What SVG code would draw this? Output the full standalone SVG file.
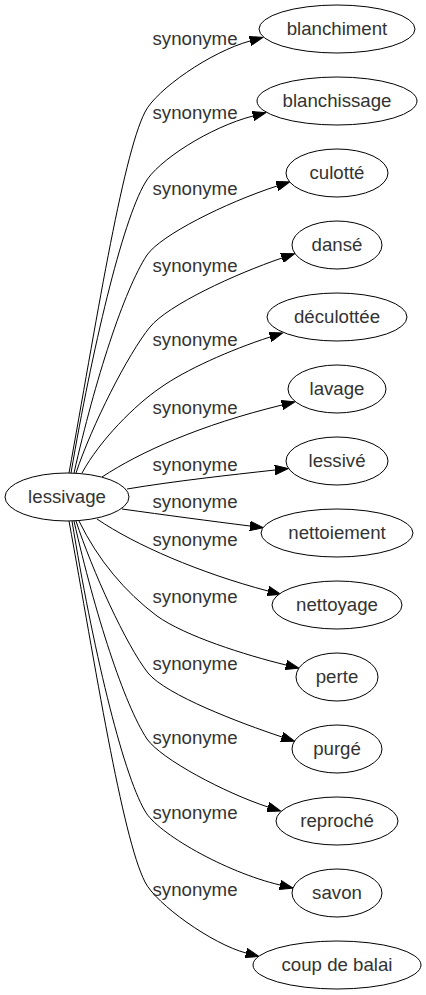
<svg xmlns="http://www.w3.org/2000/svg" width="426" height="995" viewBox="0 0 426 995">
<style>
.n ellipse{fill:#fff;stroke:#000;stroke-width:1}
text{font-family:"Liberation Sans",Arial,sans-serif;font-size:18.67px;fill:#333;text-anchor:middle}
#edges path{fill:none;stroke:#000;stroke-width:1;marker-end:url(#ah)}
</style>
<defs>
<marker id="ah" markerWidth="14" markerHeight="10" refX="0" refY="5" orient="auto" markerUnits="userSpaceOnUse" viewBox="0 0 14 10">
<path d="M0,0.3 L13.3,5 L0,9.7 z" fill="#000" stroke="#000" stroke-width="1"/>
</marker>
</defs>
<rect width="426" height="995" fill="#fff"/>
<g id="edges">
<path d="M69,473 C95,330 122,157 145,112 C156,90 210,52 250,41"/>
<path d="M71,473 C92,350 122,222 145,183 C157,161 210,127 253,116"/>
<path d="M74,473 C95,380 124,290 147,255 C161,235 225,203 277,186"/>
<path d="M76,473 C92,425 128,354 150,327 C168,305 235,274 282,258"/>
<path d="M82,473 C100,440 135,405 160,388 C185,370 230,350 270,337"/>
<path d="M102,477 C140,452 200,425 282,405"/>
<path d="M127,489 C175,481 230,475 275,470"/>
<path d="M122,509 C165,515 210,521 250,526"/>
<path d="M97,519 C135,545 200,573 268,591"/>
<path d="M79,521 C98,560 125,592 157,616 C185,636 245,655 286,665"/>
<path d="M76,521 C92,570 126,645 148,673 C166,695 240,723 282,737"/>
<path d="M74,521 C95,614 124,704 147,739 C161,759 225,793 268,807"/>
<path d="M72,521 C92,644 122,772 145,811 C157,833 225,872 280,885"/>
<path d="M69,521 C95,664 122,837 145,882 C156,904 212,944 246,953"/>
</g>
<g id="edge-labels">
<text x="195" y="45">synonyme</text>
<text x="195" y="119">synonyme</text>
<text x="195" y="195">synonyme</text>
<text x="195" y="272">synonyme</text>
<text x="195" y="346">synonyme</text>
<text x="195" y="414">synonyme</text>
<text x="195" y="471">synonyme</text>
<text x="195" y="508">synonyme</text>
<text x="195" y="546">synonyme</text>
<text x="195" y="603">synonyme</text>
<text x="195" y="670">synonyme</text>
<text x="195" y="744">synonyme</text>
<text x="195" y="819">synonyme</text>
<text x="195" y="896">synonyme</text>
</g>
<g id="lessivage" class="n"><ellipse cx="67" cy="497" rx="62" ry="24"/><text x="67" y="503">lessivage</text></g>
<g id="blanchiment" class="n"><ellipse cx="337" cy="29" rx="78" ry="24"/><text x="337" y="35">blanchiment</text></g>
<g id="blanchissage" class="n"><ellipse cx="337" cy="101" rx="80" ry="24"/><text x="337" y="107">blanchissage</text></g>
<g id="culotte" class="n"><ellipse cx="337" cy="173" rx="51" ry="24"/><text x="337" y="179">culotté</text></g>
<g id="danse" class="n"><ellipse cx="337" cy="245" rx="45" ry="24"/><text x="337" y="251">dansé</text></g>
<g id="deculottee" class="n"><ellipse cx="337" cy="317" rx="70" ry="24"/><text x="337" y="323">déculottée</text></g>
<g id="lavage" class="n"><ellipse cx="337" cy="389" rx="49" ry="24"/><text x="337" y="395">lavage</text></g>
<g id="lessive" class="n"><ellipse cx="337" cy="461" rx="51" ry="24"/><text x="337" y="467">lessivé</text></g>
<g id="nettoiement" class="n"><ellipse cx="337" cy="533" rx="76" ry="24"/><text x="337" y="539">nettoiement</text></g>
<g id="nettoyage" class="n"><ellipse cx="337" cy="605" rx="65" ry="24"/><text x="337" y="611">nettoyage</text></g>
<g id="perte" class="n"><ellipse cx="337" cy="677" rx="41" ry="24"/><text x="337" y="683">perte</text></g>
<g id="purge" class="n"><ellipse cx="337" cy="749" rx="45" ry="24"/><text x="337" y="755">purgé</text></g>
<g id="reproche" class="n"><ellipse cx="337" cy="821" rx="61" ry="24"/><text x="337" y="827">reproché</text></g>
<g id="savon" class="n"><ellipse cx="337" cy="893" rx="45" ry="24"/><text x="337" y="899">savon</text></g>
<g id="coup-de-balai" class="n"><ellipse cx="337" cy="965" rx="84" ry="24"/><text x="337" y="971">coup de balai</text></g>
</svg>
